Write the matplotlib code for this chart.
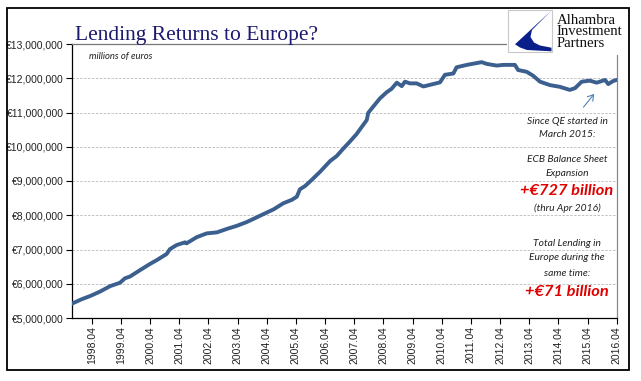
import matplotlib
matplotlib.use("Agg")
import matplotlib.pyplot as plt
from matplotlib.patches import Rectangle, Polygon, FancyArrowPatch
from matplotlib.ticker import FuncFormatter

# ---- data (decimal year, millions of euros) ----
dates = [1997.60, 1997.91, 1998.19, 1998.53, 1998.88, 1999.22, 1999.39, 1999.56,
         1999.91, 2000.25, 2000.48, 2000.82, 2000.93, 2001.16, 2001.45, 2001.50,
         2001.85, 2002.19, 2002.54, 2002.88, 2003.22, 2003.56, 2003.91, 2004.13,
         2004.48, 2004.82, 2005.11, 2005.28, 2005.39, 2005.56, 2005.79, 2006.08,
         2006.42, 2006.65, 2006.88, 2007.10, 2007.33, 2007.56, 2007.68, 2007.73,
         2007.90, 2008.13, 2008.36, 2008.53, 2008.71, 2008.88, 2008.99, 2009.16,
         2009.39, 2009.62, 2009.91, 2010.19, 2010.36, 2010.65, 2010.76, 2011.11,
         2011.62, 2011.79, 2012.13, 2012.36, 2012.76, 2012.87, 2013.16, 2013.39,
         2013.62, 2013.96, 2014.30, 2014.64, 2014.82, 2015.05, 2015.33, 2015.56,
         2015.85, 2015.96, 2016.13, 2016.25]
lending = [5430000, 5550000, 5640000, 5770000, 5930000, 6030000, 6160000, 6210000,
           6400000, 6580000, 6690000, 6870000, 7010000, 7130000, 7210000, 7180000,
           7360000, 7470000, 7500000, 7600000, 7690000, 7800000, 7940000, 8030000,
           8170000, 8350000, 8450000, 8540000, 8760000, 8850000, 9030000, 9270000,
           9580000, 9730000, 9950000, 10150000, 10370000, 10640000, 10780000, 10990000,
           11170000, 11410000, 11590000, 11690000, 11870000, 11770000, 11900000, 11850000,
           11850000, 11760000, 11820000, 11880000, 12100000, 12140000, 12320000, 12390000,
           12470000, 12420000, 12370000, 12390000, 12390000, 12240000, 12190000, 12070000,
           11900000, 11800000, 11750000, 11660000, 11710000, 11900000, 11930000, 11870000,
           11950000, 11830000, 11920000, 11950000]
tick_years = list(range(1998, 2017))
tick_labels = [f"{y}.04" for y in tick_years]
y_ticks = [5000000, 6000000, 7000000, 8000000, 9000000, 10000000, 11000000, 12000000, 13000000]

W, H = 641, 381
fig = plt.figure(figsize=(W / 100, H / 100), dpi=100)
fig.patch.set_facecolor("white")

def fx(px):
    return px / W

def fy(py):
    return 1 - py / H

ax = fig.add_axes([fx(72.3), fy(318), fx(616.7 - 72.3), (318 - 44) / H])
ax.plot(dates, lending, color="#3b5f8e", lw=2.8, solid_joinstyle="round", zorder=3)
ax.set_xlim(1997 + 7 / 12, 2016.25)
ax.set_ylim(5000000, 13000000)
ax.set_xticks([y + 0.25 for y in tick_years])
ax.set_xticklabels(tick_labels, rotation=90, fontsize=7.5, family="Liberation Sans", color="#222222")
ax.set_yticks(y_ticks)
ax.yaxis.set_major_formatter(FuncFormatter(lambda v, p: "€{:,.0f}".format(v)))
for lab in ax.get_yticklabels():
    lab.set_fontsize(7.5)
    lab.set_family("Liberation Sans")
    lab.set_color("#222222")
ax.tick_params(axis="both", direction="out", length=4, width=0.8, color="black", pad=2)
for yv in y_ticks[1:-1]:
    ax.axhline(yv, color="#c2c2c2", lw=0.7, ls=(0, (2.5, 1.5)), zorder=1)
ax.spines["left"].set_color("black")
ax.spines["bottom"].set_color("black")
ax.spines["top"].set_color("#777777")
ax.spines["right"].set_color("#888888")
for s in ax.spines.values():
    s.set_linewidth(0.9)

ax.text(0.03, 0.955, "millions of euros", transform=ax.transAxes, fontsize=6.8,
        family="Lato", style="italic", color="#222222", va="center")

# annotations
cx = fx(567)
notes = [
    (121, "Since QE started in", 7.4, "normal", "#222222"),
    (134.5, "March 2015:", 7.4, "normal", "#222222"),
    (160, "ECB Balance Sheet", 7.4, "normal", "#222222"),
    (173, "Expansion", 7.4, "normal", "#222222"),
    (191, "+€727 billion", 11.8, "bold", "#e00000"),
    (208, "(thru Apr 2016)", 7.4, "normal", "#222222"),
    (243, "Total Lending in", 7.4, "normal", "#222222"),
    (258, "Europe during the", 7.4, "normal", "#222222"),
    (273, "same time:", 7.4, "normal", "#222222"),
    (292, "+€71 billion", 11.8, "bold", "#e00000"),
]
for py, txt, fs, fw, col in notes:
    fig.text(cx, fy(py), txt, fontsize=fs, fontweight=fw, style="italic", family="Lato",
             color=col, ha="center", va="center", zorder=5)

arr = FancyArrowPatch((fx(581.7), fy(109.3)), (fx(596), fy(91.7)), transform=fig.transFigure,
                      arrowstyle="->,head_length=4,head_width=2.5", color="#4f81bd", lw=0.8,
                      zorder=5)
fig.patches.append(arr)

# title
fig.text(fx(75), fy(40), "Lending Returns to Europe?", fontsize=15.5, family="Liberation Serif",
         color="#1c1a6e", va="baseline", ha="left")

# logo area
lg = fig.add_axes([fx(507), fy(55), fx(627 - 507), (55 - 9) / H])
lg.set_xlim(507, 627)
lg.set_ylim(55, 9)
lg.set_facecolor("white")
lg.axis("off")
lg.add_patch(Rectangle((507, 9), 120, 46, facecolor="white", edgecolor="none", zorder=0))
lg.add_patch(Rectangle((507.5, 10), 44, 41.5, facecolor="white", edgecolor="#c8c8c8", lw=0.8, zorder=1))
lg.add_patch(Polygon([(551.5, 10.5), (515, 44.3), (520, 47.5), (527, 50), (551.5, 51.3),
                      (551.5, 47.7), (540, 45.5), (534, 42.5), (530.5, 37), (532, 30)],
                     closed=True, facecolor="#0a1f8a", edgecolor="none", zorder=2))
for py, word in [(20, "Alhambra"), (31.7, "Investment"), (43.3, "Partners")]:
    lg.text(556.5, py, word, fontsize=10.6, family="Liberation Serif", color="#111111",
            va="center", ha="left", zorder=3)

# outer frame
fig.patches.append(Rectangle((fx(7), fy(370)), fx(629 - 7), (370 - 8) / H,
                             transform=fig.transFigure, fill=False, edgecolor="black", lw=1.3))

fig.savefig("out.png", dpi=100)
